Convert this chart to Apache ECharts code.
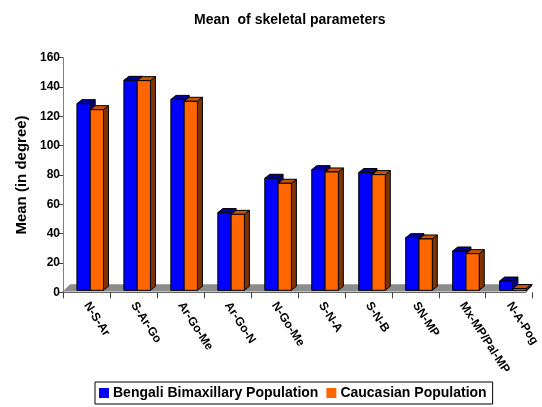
<!DOCTYPE html>
<html>
<head>
<meta charset="utf-8">
<script src="https://cdn.jsdelivr.net/npm/echarts@6/dist/echarts.min.js"></script>
<style>
  html, body { margin: 0; padding: 0; background: #fff; }
  #chart { width: 542px; height: 407px; }
</style>
</head>
<body>
<div id="chart"></div>
<script>
var categories = ['N-S-Ar', 'S-Ar-Go', 'Ar-Go-Me', 'Ar-Go-N', 'N-Go-Me', 'S-N-A', 'S-N-B', 'SN-MP', 'Mx-MP/Pal-MP', 'N-A-Pog'];
var bengali = [127.3, 143.2, 130.2, 53.0, 76.4, 82.3, 80.3, 35.9, 26.8, 6.3];
var caucasian = [123.2, 143.0, 128.9, 51.8, 73.0, 80.7, 78.9, 35.0, 25.0, 1.2];
var yTicks = [0, 20, 40, 60, 80, 100, 120, 140, 160];

var chart = echarts.init(document.getElementById('chart'), null, { renderer: 'canvas' });

var DX = 5, DY = 4, LIFT = 2;

// 3D-looking bar drawn from the category / value scales
function bar3d(idx, front, top, side) {
	return function (params, api) {
		var base = api.coord([api.value(0), 0]);
		var tip = api.coord([api.value(0), api.value(1)]);
		var cw = api.size([1, 0])[0];
		var bw = cw * 0.283;
		var x0 = base[0] + (idx - 0.72) * bw;
		var yb = base[1] - LIFT;
		var yt = tip[1] - LIFT;
		var st = { stroke: '#000', lineWidth: 1 };
		return {
			type: 'group',
			children: [
				{ type: 'polygon', shape: { points: [[x0 + bw, yt], [x0 + bw + DX, yt - DY], [x0 + bw + DX, yb - DY], [x0 + bw, yb]] },
					style: Object.assign({ fill: side }, st) },
				{ type: 'polygon', shape: { points: [[x0, yt], [x0 + DX, yt - DY], [x0 + bw + DX, yt - DY], [x0 + bw, yt]] },
					style: Object.assign({ fill: top }, st) },
				{ type: 'rect', shape: { x: x0, y: yt, width: bw, height: yb - yt },
					style: Object.assign({ fill: front }, st) }
			]
		};
	};
}

// gray floor under the bars
function floor(params, api) {
	var a = api.coord([0, 0]);
	var b = api.coord([categories.length - 1, 0]);
	var cw = api.size([1, 0])[0];
	var left = a[0] - cw / 2, right = b[0] + cw / 2 - 7;
	var yf = a[1] - 1, yk = yf - 7;
	return {
		type: 'group',
		children: [
			{ type: 'polygon', shape: { points: [[left, yf], [left + 7, yk], [right + 7, yk], [right, yf]] },
				style: { fill: '#8c8c8c' } },
			{ type: 'polyline', shape: { points: [[left - 1, yf + 1], [right, yf + 1], [right + 7, yk]] },
				style: { stroke: '#404040', lineWidth: 1, fill: null } }
		]
	};
}

var option = {
	animation: false,
	title: {
		text: 'Mean  of skeletal parameters',
		left: 189,
		top: 8,
		textStyle: { fontFamily: 'Liberation Sans', fontSize: 14, fontWeight: 'bold', color: '#000' }
	},
	legend: {
		data: [
			{ name: 'Bengali Bimaxillary Population', icon: 'rect' },
			{ name: 'Caucasian Population', icon: 'rect' }
		],
		left: 95,
		top: 382,
		padding: [4, 6, 4, 4],
		itemWidth: 10,
		itemHeight: 10,
		itemGap: 8,
		borderColor: '#000',
		borderWidth: 1,
		textStyle: { fontFamily: 'Liberation Sans', fontSize: 14, fontWeight: 'bold', color: '#000', padding: [0, 0, 0, -1] }
	},
	grid: {
		left: 63,
		right: 9,
		top: 57.7,
		bottom: 114.7,
		containLabel: false
	},
	xAxis: {
		type: 'category',
		data: categories,
		axisLine: { show: false },
		axisTick: { show: true, length: 6, lineStyle: { color: '#404040' } },
		axisLabel: {
			interval: 0,
			rotate: -57,
			margin: 11,
			fontFamily: 'Liberation Sans',
			fontSize: 12,
			fontWeight: 'bold',
			color: '#000'
		},
		splitLine: { show: false }
	},
	yAxis: {
		type: 'value',
		min: 0,
		max: 160,
		interval: 20,
		name: 'Mean (in degree)',
		nameLocation: 'middle',
		nameGap: 27,
		nameTextStyle: { fontFamily: 'Liberation Sans', fontSize: 15, fontWeight: 'bold', color: '#000' },
		axisLine: { show: true, lineStyle: { color: '#808080', width: 1 } },
		axisTick: { show: true, length: 4, lineStyle: { color: '#404040' } },
		axisLabel: {
			margin: 3,
			fontFamily: 'Liberation Sans',
			fontSize: 12,
			fontWeight: 'bold',
			color: '#000',
			formatter: function (v) { return yTicks.indexOf(v) >= 0 ? String(v) : ''; }
		},
		splitLine: { show: false }
	},
	series: [
		{
			type: 'custom',
			name: 'floor',
			renderItem: floor,
			data: [[0, 0]],
			silent: true,
			z: 1
		},
		{
			type: 'custom',
			name: 'Bengali Bimaxillary Population',
			itemStyle: { color: '#0000ff' },
			renderItem: bar3d(0, '#0000ff', '#00009c', '#000080'),
			data: categories.map(function (c, i) { return [i, bengali[i]]; }),
			z: 2
		},
		{
			type: 'custom',
			name: 'Caucasian Population',
			itemStyle: { color: '#ff6600' },
			renderItem: bar3d(1, '#ff6600', '#cc5200', '#7f3300'),
			data: categories.map(function (c, i) { return [i, caucasian[i]]; }),
			z: 3
		}
	]
};

chart.setOption(option);

window.onresize = function () {
	chart.resize();
};
</script>
</body>
</html>
